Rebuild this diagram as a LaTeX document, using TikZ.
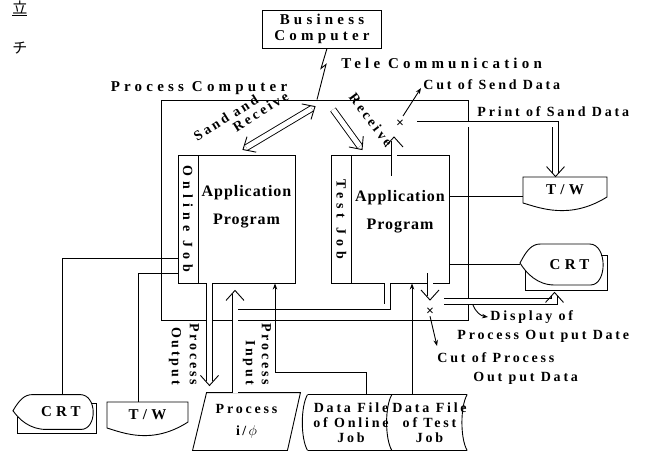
\documentclass[tikz,border=0pt]{standalone}
\usepackage{fontspec}
\setmainfont{Liberation Serif}
\newfontfamily\lsfont[LetterSpace=20]{Liberation Serif}
\newfontfamily\wdfont[LetterSpace=28]{Liberation Serif}
\newfontfamily\jbfont[LetterSpace=36]{Liberation Serif}
\newfontfamily\apfont[LetterSpace=6]{Liberation Serif}
\newfontfamily\jpfont{Noto Sans CJK JP}
\usetikzlibrary{positioning, arrows.meta, calc}

\tikzset{vhead/.pic={\draw (-10,-9) -- (0,0) -- (-10,9);}}

\begin{document}
\begin{tikzpicture}[x=1pt, y=-1pt, line width=0.9pt,
  >={Stealth[length=6pt, width=4.5pt]},
  box/.style={draw, rectangle, inner sep=0pt},
  lab/.style={font=\lsfont\bfseries\fontsize{14}{19}\selectfont, inner sep=0pt},
  wide/.style={font=\wdfont\bfseries\fontsize{15}{16}\selectfont, inner sep=0pt},
  job/.style={box, font=\jbfont\bfseries\fontsize{14}{14}\selectfont, minimum width=20pt, minimum height=128pt},
  app/.style={box, minimum width=97pt, minimum height=128pt},
  apptx/.style={font=\apfont\bfseries\fontsize{16}{28}\selectfont, inner sep=0pt, align=center},
  dbl/.style={double, double distance=5pt, shorten >=4pt},
  jp/.style={font=\jpfont\fontsize{15}{15}\selectfont, inner sep=0pt}]

  \useasboundingbox (0,0) rectangle (655,452);

  % cut-off page text at the left edge
  \node (frag1) [jp] at (20,8) {\underline{立}};
  \node (frag2) [jp] at (20,48) {チ};

  % --- computers ---
  \node (bc) [box, wide, minimum width=119pt, minimum height=38pt, align=center] at (322,29) {Business\\Computer};
  \node (pc) [box, minimum width=307pt, minimum height=220pt] at (314.5,210) {};
  \node (pclab) [wide] at (199,88) {Process Computer};

  % --- application programs ---
  \node (onjob) [job] at (188,219) {\rotatebox{-90}{Online Job}};
  \node (onapp) [app] at (246.5,219) {};
  \node (onapptx) [apptx, anchor=north] at ([yshift=-30pt]onapp.north) {Application\\Program};

  \node (tsjob) [job] at (341.5,219) {\rotatebox{-90}{Test Job}};
  \node (tsapp) [app, minimum width=98pt] at (400,219) {};
  \node (tsapptx) [apptx, anchor=north] at ([yshift=-35pt]tsapp.north) {Application\\Program};

  % --- terminals ---
  \node (tw1) [wide, minimum width=84pt, minimum height=26pt] at (565,190) {T/W};
  \draw[shift={(tw1.center)}] (-42,-13) -- (42,-13) -- (42,7) .. controls (5,30) and (-25,18) .. (-42,13) -- cycle;

  \node (tw2) [wide, minimum width=81pt, minimum height=26pt] at (147.5,415) {T/W};
  \draw[shift={(tw2.center)}, xscale=0.965] (-42,-13) -- (42,-13) -- (42,7) .. controls (5,30) and (-25,18) .. (-42,13) -- cycle;

  \node (crt1) [wide, minimum width=85pt, minimum height=41pt] at (562.5,264.5) {\hspace*{14pt}CRT};
  \begin{scope}[shift={(crt1.center)}]
    \draw (-42.5,-1.5) .. controls (-36,-14) and (-31,-20.5) .. (-22,-20.5) -- (27,-20.5)
      .. controls (45,-20.5) and (45,20.5) .. (28,20.5) -- (-8,20.5)
      .. controls (-25,20.5) and (-36,9) .. cycle;
    \draw (-37.5,6) -- (-37.5,25.5) -- (44.5,25.5) -- (44.5,-9.5) -- (38.5,-9.5);
  \end{scope}

  \node (crt2) [wide, minimum width=82pt, minimum height=35pt] at (54,412) {\hspace*{14pt}CRT};
  \begin{scope}[shift={(crt2.center)}, xscale=0.965, yscale=0.85]
    \draw (-42.5,-1.5) .. controls (-36,-14) and (-31,-20.5) .. (-22,-20.5) -- (27,-20.5)
      .. controls (45,-20.5) and (45,20.5) .. (28,20.5) -- (-8,20.5)
      .. controls (-25,20.5) and (-36,9) .. cycle;
    \draw (-37.5,6) -- (-37.5,25.5) -- (44.5,25.5) -- (44.5,-9.5) -- (38.5,-9.5);
  \end{scope}

  % --- process i/o and data files ---
  \node (pio) [lab, minimum width=107pt, minimum height=57pt, align=center, font=\lsfont\bfseries\fontsize{14}{22}\selectfont] at (246.5,421.5) {Process\\i\,/\,$\phi$};
  \draw ([xshift=14pt]pio.north west) -- (pio.north east) -- ([xshift=-13pt]pio.south east) -- (pio.south west) -- cycle;

  \node (df1) [lab, minimum width=86pt, minimum height=55pt, align=center, font=\lsfont\bfseries\fontsize{14}{15}\selectfont] at (351,422.5) {Data File\\of Online\\Job};
  \node (df2) [lab, minimum width=71pt, minimum height=55pt, align=center, font=\lsfont\bfseries\fontsize{14}{15}\selectfont] at (429.5,422.5) {Data File\\of Test\\Job};
  \draw (df1.north west) -- (df2.north east);
  \draw (df1.south west) -- (df2.south east);
  \draw (df1.north west) .. controls +(-7,12) and +(-7,-12) .. (df1.south west);
  \draw (df2.north west) .. controls +(-7,12) and +(-7,-12) .. (df2.south west);
  \draw (df2.north east) .. controls +(-7,12) and +(-7,-12) .. (df2.south east);

  % --- labels ---
  \node (tele) [wide, anchor=west] at (341,63) {Tele Communication};
  \node (cutsend) [lab, anchor=west] at (423,85) {Cut of Send Data};
  \node (printsend) [lab, anchor=west] at (477,112) {Print of Sand Data};
  \node (rcvlab) [lab, rotate=-53, font=\lsfont\bfseries\fontsize{14}{14}\selectfont] at (371,120) {Receive};
  \node (sandlab) [lab, rotate=32, align=left, font=\lsfont\bfseries\fontsize{14}{13}\selectfont] at (241,116) {Sand and\\\hspace*{38pt}Receive};
  \node (pout) [lab, rotate=-90, align=right, font=\lsfont\bfseries\fontsize{14}{18}\selectfont] at (184,354) {Process\\Output};
  \node (pin) [lab, rotate=-90, align=right, font=\lsfont\bfseries\fontsize{14}{16}\selectfont] at (257,354) {Process\\Input};
  \node (dispout) [lab, align=left, anchor=north west] at (457,310) {\hspace*{33pt}Display of\\Process Out put Date};
  \node (cutproc) [lab, align=left, anchor=north west] at (437,352) {Cut of Process\\\hspace*{36pt}Out put Data};
  \node (xsend) [lab] at (400,124) {×};
  \node (xcut) [lab] at (430,312) {×};

  % --- tele communication ---
  \draw ([xshift=5pt]bc.south) -- ++(-6,20) -- ++(5,-4) -- ([xshift=2.5pt]pc.north);

  % --- ends of the double (data) arrows ---
  \coordinate (rcvtip) at ([shift={(31,-5)}]tsjob.north west);
  \coordinate (sandlo) at ([shift={(-3.5,-5)}]onapp.north);
  \coordinate (sandhi) at ([shift={(0.5,7)}]pc.north);
  \coordinate (sendtip) at ([shift={(-6,13)}]xsend.center);
  \coordinate (printtip) at ([xshift=-9.5pt]tw1.north);
  \coordinate (pouttip) at ([shift={(-37,102)}]onapp.south);
  \coordinate (pintip) at ([shift={(-11.5,7)}]onapp.south);
  \coordinate (cuttip) at ([yshift=12pt]xcut.center);
  \coordinate (disptip) at ([shift={(-8,7)}]crt1.south);

  % --- double (data) arrows ---
  \draw[dbl] ([shift={(18.5,10)}]pc.north) -- (rcvtip);
  \draw[dbl, shorten <=4pt] (sandlo) -- (sandhi);
  \draw[dbl] ([shift={(-6,21)}]tsapp.north) -- (sendtip);
  \draw[dbl] ([xshift=17pt]xsend.center) -| (printtip);
  \draw[dbl] ([xshift=-37pt]onapp.south) -- (pouttip);
  \draw[dbl] ([xshift=-11.5pt]pio.north) -- (pintip);
  \draw[double, double distance=5pt] ([shift={(-9,23.5)}]onapp.south) -| ([xshift=-12.5pt]tsapp.south);
  \draw[dbl] ([shift={(30,-10)}]tsapp.south) -- (cuttip);
  \draw[dbl] ([shift={(14,-10.5)}]xcut.center) -| (disptip);
  \pic[rotate=-53.1] at (rcvtip) {vhead};
  \pic[rotate=30.8] at (sandhi) {vhead};
  \pic[rotate=210.8] at (sandlo) {vhead};
  \pic[rotate=90] at (sendtip) {vhead};
  \pic[rotate=-90] at (printtip) {vhead};
  \pic[rotate=-90] at (pouttip) {vhead};
  \pic[rotate=90] at (pintip) {vhead};
  \pic[rotate=-90] at (cuttip) {vhead};
  \pic[rotate=90] at (disptip) {vhead};

  % --- single lines ---
  \draw ([xshift=8pt]crt2.north) |- ([yshift=-39pt]onjob.west);
  \draw ([xshift=-9.5pt]tw2.north) |- ([yshift=-54pt]onjob.west);
  \draw[->] ([xshift=15pt]df1.north) -- ++(0,-22) -| ([xshift=28.5pt]onapp.south);
  \draw[->] ([xshift=-17.5pt]df2.north) -- ([xshift=-17.5pt]df2.north |- tsapp.south);
  \draw ([yshift=-6pt]tw1.west) -- ([yshift=-6pt]tw1.west -| tsapp.east);
  \draw (crt1.west) -- (crt1.west -| tsapp.east);

  % --- cut / display pointers ---
  \draw[->] ([shift={(3,-8)}]xsend.center) -- ([shift={(-2,3)}]cutsend.west);
  \draw[->] ([shift={(43,-7)}]xcut.center) to[bend right=30] ([shift={(31,7)}]dispout.north west);
  \draw[->] (xcut.south) -- ([yshift=6pt]cutproc.north west);

\end{tikzpicture}
\end{document}
